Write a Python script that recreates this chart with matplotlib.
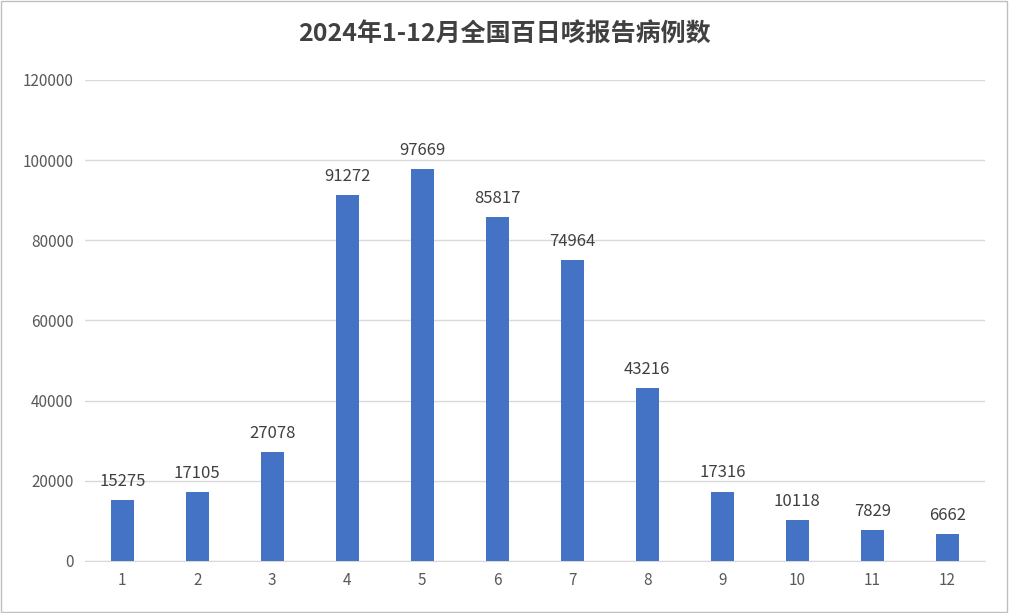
import matplotlib.pyplot as plt
from matplotlib.patches import Rectangle

plt.rcParams["font.family"] = ["Noto Sans CJK SC"]

months = ["1", "2", "3", "4", "5", "6", "7", "8", "9", "10", "11", "12"]
cases = [15275, 17105, 27078, 91272, 97669, 85817, 74964, 43216, 17316, 10118, 7829, 6662]
yticks = [0, 20000, 40000, 60000, 80000, 100000, 120000]

fig = plt.figure(figsize=(10.09, 6.13), dpi=100)
ax = fig.add_axes([0.084, 0.085, 0.892, 0.7845])
fig.patches.append(Rectangle((0.001, 0.001), 0.997, 0.997, transform=fig.transFigure,
                             fill=False, edgecolor="#bfbfbf", linewidth=1))

x = range(len(months))
ax.bar(x, cases, width=0.3, color="#4472C4", zorder=3)
for i, v in enumerate(cases):
    ax.text(i, v + 2500, str(v), ha="center", va="bottom", fontsize=12, color="#404040")

ax.set_ylim(0, 120000)
ax.set_xlim(-0.5, len(months) - 0.5)
ax.set_yticks(yticks)
ax.set_yticklabels([str(t) for t in yticks])
ax.set_xticks(list(x))
ax.set_xticklabels(months)
ax.tick_params(length=0, labelsize=11, labelcolor="#595959", pad=8)
ax.grid(axis="y", color="#d9d9d9", linewidth=1, zorder=0)
for s in ["top", "right", "left"]:
    ax.spines[s].set_visible(False)
ax.spines["bottom"].set_color("#d9d9d9")

fig.text(0.5, 0.943, "2024年1-12月全国百日咳报告病例数", ha="center", va="center",
         fontsize=18, fontweight="bold", color="#404040")

fig.savefig("out.png", dpi=100)
